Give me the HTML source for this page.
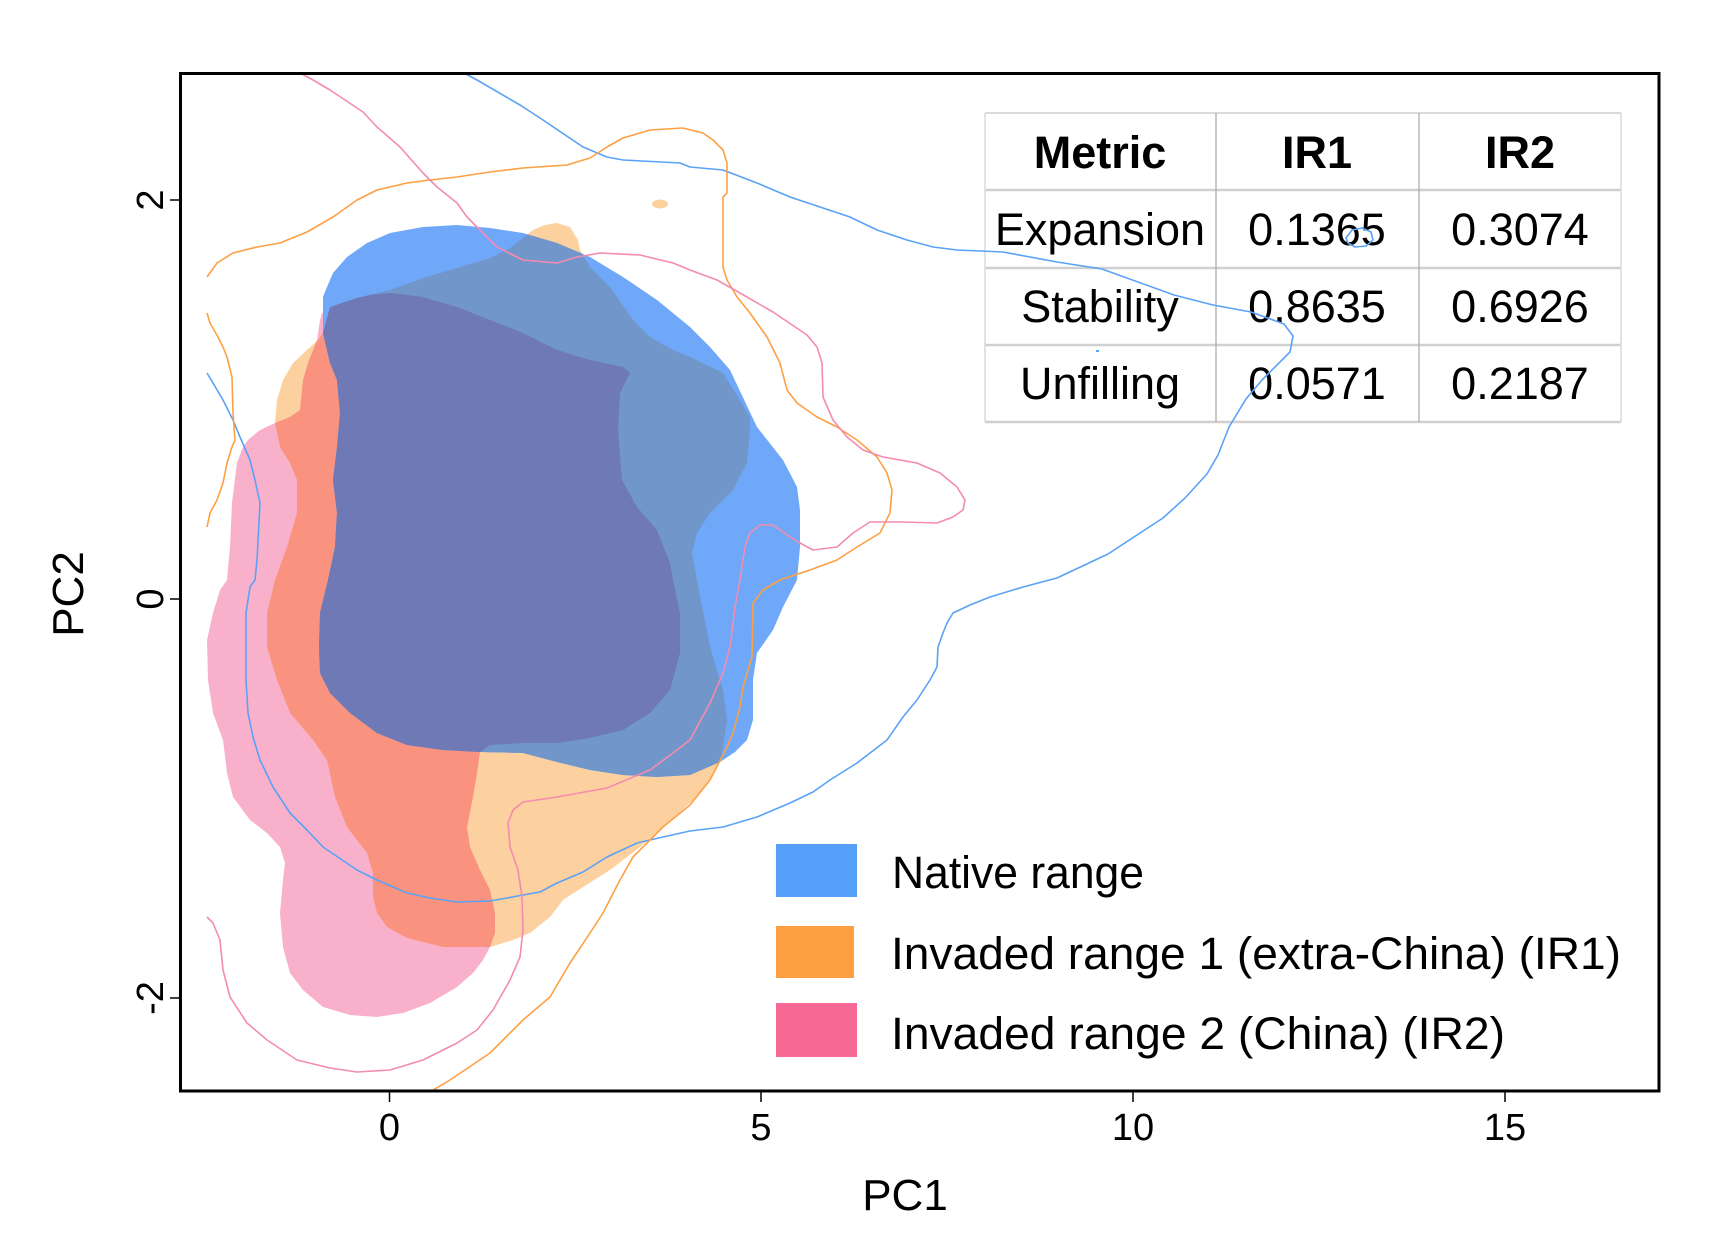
<!DOCTYPE html>
<html>
<head>
<meta charset="utf-8">
<style>
  html, body { margin: 0; padding: 0; background: #ffffff; }
  svg { display: block; }
  text { font-family: "Liberation Sans", Arial, sans-serif; fill: #000; }
</style>
</head>
<body>
<svg width="1730" height="1239" viewBox="0 0 1730 1239" xmlns="http://www.w3.org/2000/svg">
  <defs>
    <clipPath id="plotClip">
      <rect x="181" y="74" width="1477" height="1016"/>
    </clipPath>
    <clipPath id="cpPink">
      <path d="M322,313 L347,297 L390,293 L423,297 L457,307 L490,320 L523,333 L557,350 L590,360 L623,367 L630,373 L620,393 L618,430 L622,480 L637,507 L657,530 L670,563 L673,580 L680,613 L680,653 L670,690 L650,713 L623,730 L590,738 L557,743 L523,743 L490,745 L480,752 L477,773 L473,797 L467,827 L470,847 L480,870 L490,890 L495,913 L495,933 L490,947 L483,960 L473,973 L457,987 L430,1003 L403,1013 L377,1017 L350,1015 L323,1007 L303,990 L290,973 L283,947 L280,913 L283,880 L285,863 L280,847 L267,833 L250,820 L233,797 L227,773 L223,740 L213,713 L208,680 L207,640 L213,613 L220,590 L227,580 L230,547 L232,503 L237,463 L243,447 L248,440 L260,430 L275,423 L290,417 L300,410 L303,380 L308,363 L317,340 L320,320 Z"/>
    </clipPath>
    <clipPath id="cpOrange">
      <path d="M275,423 L277,400 L283,380 L293,363 L307,350 L318,340 L323,333 L330,307 L357,298 L390,290 L423,278 L457,268 L490,258 L510,248 L523,238 L533,230 L545,225 L557,223 L570,227 L578,240 L580,250 L590,267 L610,287 L633,320 L650,337 L673,350 L690,357 L723,373 L740,400 L750,417 L750,430 L747,463 L733,490 L710,513 L697,533 L692,553 L697,580 L710,647 L723,690 L727,720 L723,747 L720,762 L710,780 L697,797 L690,803 L663,827 L640,847 L610,870 L583,887 L563,900 L550,917 L530,933 L513,940 L490,947 L443,947 L407,938 L387,927 L377,913 L373,897 L373,873 L367,853 L347,827 L335,797 L327,760 L313,740 L290,713 L277,680 L267,647 L267,613 L275,580 L287,547 L297,513 L297,480 L290,463 L280,447 Z"/>
    </clipPath>
    <path id="pinkShape" d="M322,313 L347,297 L390,293 L423,297 L457,307 L490,320 L523,333 L557,350 L590,360 L623,367 L630,373 L620,393 L618,430 L622,480 L637,507 L657,530 L670,563 L673,580 L680,613 L680,653 L670,690 L650,713 L623,730 L590,738 L557,743 L523,743 L490,745 L480,752 L477,773 L473,797 L467,827 L470,847 L480,870 L490,890 L495,913 L495,933 L490,947 L483,960 L473,973 L457,987 L430,1003 L403,1013 L377,1017 L350,1015 L323,1007 L303,990 L290,973 L283,947 L280,913 L283,880 L285,863 L280,847 L267,833 L250,820 L233,797 L227,773 L223,740 L213,713 L208,680 L207,640 L213,613 L220,590 L227,580 L230,547 L232,503 L237,463 L243,447 L248,440 L260,430 L275,423 L290,417 L300,410 L303,380 L308,363 L317,340 L320,320 Z"/>
    <path id="orangeShape" d="M275,423 L277,400 L283,380 L293,363 L307,350 L318,340 L323,333 L330,307 L357,298 L390,290 L423,278 L457,268 L490,258 L510,248 L523,238 L533,230 L545,225 L557,223 L570,227 L578,240 L580,250 L590,267 L610,287 L633,320 L650,337 L673,350 L690,357 L723,373 L740,400 L750,417 L750,430 L747,463 L733,490 L710,513 L697,533 L692,553 L697,580 L710,647 L723,690 L727,720 L723,747 L720,762 L710,780 L697,797 L690,803 L663,827 L640,847 L610,870 L583,887 L563,900 L550,917 L530,933 L513,940 L490,947 L443,947 L407,938 L387,927 L377,913 L373,897 L373,873 L367,853 L347,827 L335,797 L327,760 L313,740 L290,713 L277,680 L267,647 L267,613 L275,580 L287,547 L297,513 L297,480 L290,463 L280,447 Z"/>
    <path id="blueShape" d="M323,333 L323,297 L327,287 L333,273 L347,257 L367,243 L390,233 L423,227 L457,225 L490,228 L523,233 L557,243 L590,257 L623,277 L657,300 L690,327 L710,347 L730,370 L757,427 L783,460 L797,487 L800,510 L800,547 L797,580 L783,607 L773,630 L757,653 L753,680 L753,720 L747,740 L735,752 L720,762 L690,775 L657,777 L623,775 L590,770 L557,762 L523,753 L480,752 L443,750 L407,745 L377,733 L350,713 L330,693 L320,673 L319,647 L320,613 L328,580 L335,547 L337,513 L333,480 L337,447 L340,413 L337,380 L330,363 Z"/>
  </defs>

  <!-- Filled regions -->
  <g clip-path="url(#plotClip)">
    <use href="#pinkShape" fill="#F9B0CB"/>
    <use href="#orangeShape" fill="#FDD09F"/>
    <g clip-path="url(#cpPink)">
      <use href="#orangeShape" fill="#F9927F"/>
    </g>
    <ellipse cx="660" cy="204" rx="8" ry="4.5" fill="#FDD09F"/>
    <use href="#blueShape" fill="#6FA8F8"/>
    <g clip-path="url(#cpOrange)">
      <use href="#blueShape" fill="#7196CA"/>
    </g>
    <g clip-path="url(#cpOrange)">
      <g clip-path="url(#cpPink)">
        <use href="#blueShape" fill="#6F79B5"/>
      </g>
    </g>
  </g>

  <!-- Table -->
  <g>
    <line x1="985" y1="113" x2="1621" y2="113" stroke="#dadada" stroke-width="2"/>
    <line x1="985" y1="190" x2="1621" y2="190" stroke="#d0d0d0" stroke-width="2.5"/>
    <line x1="985" y1="268" x2="1621" y2="268" stroke="#d0d0d0" stroke-width="2.5"/>
    <line x1="985" y1="345" x2="1621" y2="345" stroke="#d0d0d0" stroke-width="2.5"/>
    <line x1="985" y1="422" x2="1621" y2="422" stroke="#d0d0d0" stroke-width="2.5"/>
    <line x1="985" y1="113" x2="985" y2="422" stroke="#dadada" stroke-width="1.5"/>
    <line x1="1216" y1="113" x2="1216" y2="422" stroke="#a8a8a8" stroke-width="1.2"/>
    <line x1="1419" y1="113" x2="1419" y2="422" stroke="#a8a8a8" stroke-width="1.2"/>
    <line x1="1621" y1="113" x2="1621" y2="422" stroke="#dadada" stroke-width="1.5"/>
    <g font-size="45" text-anchor="middle">
      <text x="1100" y="168" font-weight="bold">Metric</text>
      <text x="1317" y="168" font-weight="bold">IR1</text>
      <text x="1520" y="168" font-weight="bold">IR2</text>
      <text x="1100" y="245">Expansion</text>
      <text x="1317" y="245">0.1365</text>
      <text x="1520" y="245">0.3074</text>
      <text x="1100" y="322">Stability</text>
      <text x="1317" y="322">0.8635</text>
      <text x="1520" y="322">0.6926</text>
      <text x="1100" y="399">Unfilling</text>
      <text x="1317" y="399">0.0571</text>
      <text x="1520" y="399">0.2187</text>
    </g>
  </g>

  <!-- Contour lines -->
  <g clip-path="url(#plotClip)" fill="none" stroke-width="1.6" stroke-linejoin="round">
    <path stroke="#5AA2F6" d="M466,74 L477,80 L520,105 L540,118 L583,147 L607,157 L623,160 L680,163 L690,167 L723,170 L757,183 L790,197 L823,208 L850,217 L877,230 L907,240 L933,247 L957,250 L1003,252 L1057,262 L1102,269 L1174,295 L1213,305 L1251,312 L1284,324 L1293,336 L1290,352 L1262,380 L1246,399 L1229,427 L1218,455 L1207,474 L1185,498 L1163,518 L1108,554 L1057,578 L1023,587 L990,597 L970,605 L953,613 L947,623 L943,633 L938,647 L937,667 L930,680 L917,700 L903,717 L887,740 L857,763 L830,780 L813,792 L790,803 L757,817 L723,827 L690,831 L663,837 L637,843 L607,857 L583,872 L557,883 L540,892 L523,895 L507,898 L490,901 L457,902 L430,898 L407,893 L377,880 L357,870 L323,847 L307,830 L290,813 L273,787 L260,760 L253,737 L248,713 L246,680 L246,613 L250,587 L255,580 L257,560 L260,503 L255,480 L250,460 L240,437 L233,420 L223,400 L213,383 L207,373"/>
    <path stroke="#5AA2F6" d="M1346,238 L1352,230 L1362,228 L1371,232 L1373,240 L1366,246 L1355,247 L1348,243 Z"/>
    <rect x="1096" y="350" width="3" height="2" fill="#5AA2F6" stroke="none"/>
    <path stroke="#FDA043" d="M207,277 L217,263 L233,253 L257,247 L280,243 L307,232 L333,217 L357,200 L377,190 L407,183 L430,180 L457,177 L490,172 L523,168 L567,165 L590,158 L607,147 L623,138 L650,130 L683,128 L703,133 L713,140 L723,150 L727,163 L727,193 L723,197 L723,267 L727,280 L737,297 L750,313 L767,337 L780,363 L787,390 L797,403 L817,417 L837,427 L857,440 L877,457 L887,473 L892,490 L890,513 L880,533 L857,547 L837,560 L810,570 L780,580 L763,590 L753,603 L752,657 L743,687 L740,707 L733,733 L727,747 L710,780 L690,805 L663,827 L633,857 L620,880 L603,913 L590,933 L570,963 L550,997 L523,1020 L490,1053 L450,1080 L430,1092"/>
    <path stroke="#FDA043" d="M207,313 L210,323 L218,337 L223,347 L227,357 L232,377 L233,413 L235,440 L232,447 L227,463 L223,483 L217,500 L210,513 L207,527"/>
    <path stroke="#F48BB0" d="M302,74 L313,80 L330,90 L363,112 L377,127 L400,147 L423,173 L437,187 L457,203 L467,217 L483,233 L497,247 L523,260 L557,263 L577,257 L600,253 L640,255 L673,263 L690,270 L717,280 L740,293 L773,312 L807,335 L817,347 L822,363 L823,397 L833,420 L847,437 L863,450 L883,457 L917,463 L940,473 L957,487 L965,500 L963,510 L953,517 L937,523 L903,522 L870,522 L853,533 L837,547 L813,550 L800,543 L790,537 L773,525 L760,525 L750,533 L745,547 L740,580 L735,607 L730,647 L723,673 L710,703 L697,727 L690,740 L673,753 L650,770 L607,788 L557,797 L523,802 L513,810 L508,823 L510,847 L518,870 L522,897 L523,930 L520,957 L510,980 L493,1010 L477,1030 L457,1043 L423,1060 L390,1070 L357,1072 L330,1068 L297,1060 L267,1040 L247,1023 L230,997 L223,970 L220,940 L213,923 L207,917"/>
  </g>

  <!-- Frame -->
  <rect x="180.5" y="73.5" width="1478.5" height="1017.5" fill="none" stroke="#000" stroke-width="3"/>

  <!-- Ticks -->
  <g stroke="#000" stroke-width="1.5">
    <line x1="170" y1="200" x2="180" y2="200"/>
    <line x1="170" y1="599" x2="180" y2="599"/>
    <line x1="170" y1="998" x2="180" y2="998"/>
    <line x1="389.5" y1="1092" x2="389.5" y2="1102"/>
    <line x1="761" y1="1092" x2="761" y2="1102"/>
    <line x1="1133" y1="1092" x2="1133" y2="1102"/>
    <line x1="1505" y1="1092" x2="1505" y2="1102"/>
  </g>

  <!-- Tick labels -->
  <g font-size="38" text-anchor="middle">
    <text x="389.5" y="1140">0</text>
    <text x="761" y="1140">5</text>
    <text x="1133" y="1140">10</text>
    <text x="1505" y="1140">15</text>
    <text transform="translate(163,200) rotate(-90)">2</text>
    <text transform="translate(163,599) rotate(-90)">0</text>
    <text transform="translate(163,998) rotate(-90)">-2</text>
  </g>

  <!-- Axis titles -->
  <text x="905" y="1210" font-size="44" text-anchor="middle">PC1</text>
  <text transform="translate(83,594) rotate(-90)" font-size="44" text-anchor="middle">PC2</text>

  <!-- Legend -->
  <rect x="776" y="844" width="81" height="53" fill="#56A0FA"/>
  <rect x="776" y="926" width="78" height="52" fill="#FD9F40"/>
  <rect x="776" y="1003" width="81" height="54" fill="#F86894"/>
  <g font-size="45">
    <text x="892" y="888" textLength="252" lengthAdjust="spacingAndGlyphs">Native range</text>
    <text x="891" y="969" textLength="730" lengthAdjust="spacingAndGlyphs">Invaded range 1 (extra-China) (IR1)</text>
    <text x="891" y="1049" textLength="614" lengthAdjust="spacingAndGlyphs">Invaded range 2 (China) (IR2)</text>
  </g>
</svg>
</body>
</html>
